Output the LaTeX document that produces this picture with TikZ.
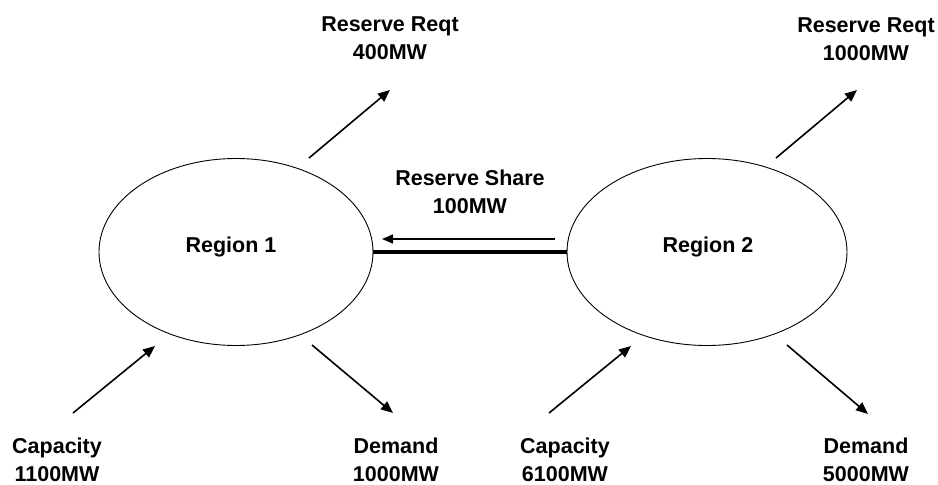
\documentclass[tikz,border=0pt]{standalone}
\usepackage{fontspec}
\setmainfont{Liberation Sans}
\usetikzlibrary{shapes.geometric,arrows.meta}
\tikzset{
  region/.style={draw,ellipse,line width=0.9pt,inner sep=0pt},
  lbl/.style={align=center,inner sep=0pt,font=\fontsize{21.5}{28}\selectfont\bfseries},
  flow/.style={line width=1.6pt,-{Triangle[length=12pt,width=10pt]}},
}
\begin{document}
\begin{tikzpicture}[x=1pt,y=-1pt]
\useasboundingbox (0,0) rectangle (938,485);
% the two regions
\node[region,minimum width=274pt,minimum height=187pt] (r1) at (236,252) {};
\node[region,minimum width=280pt,minimum height=187pt] (r2) at (707,252) {};
\node[lbl,anchor=base] (r1txt) at (231,252) {Region 1};
\node[lbl,anchor=base] (r2txt) at (708,252) {Region 2};
% tie line and the shared reserve
\draw[line width=4pt] (r1.east) -- (r2.west);
\node[lbl] (share) at (470,191.5) {Reserve Share\\100MW};
\coordinate (shareA) at (555,239);
\coordinate (shareB) at (382,239);
\draw[line width=1.4pt,-{Triangle[length=11pt,width=9pt]}] (shareA) -- (shareB);
% labels
\node[lbl] (req1) at (390,38.3) {Reserve Reqt\\400MW};
\node[lbl] (req2) at (866,39.5) {Reserve Reqt\\1000MW};
\node[lbl] (cap1) at (57,460) {Capacity\\1100MW};
\node[lbl] (dem1) at (396,460) {Demand\\1000MW};
\node[lbl] (cap2) at (565,460) {Capacity\\6100MW};
\node[lbl] (dem2) at (866,460) {Demand\\5000MW};
% arrow ends
\coordinate (r1up) at (309,158);   \coordinate (r1upH) at (390,90);
\coordinate (r1cap) at (73,413);   \coordinate (r1capH) at (155,346);
\coordinate (r1dem) at (312,345);  \coordinate (r1demH) at (393,413);
\coordinate (r2up) at (776,158);   \coordinate (r2upH) at (857,90);
\coordinate (r2cap) at (549,413);  \coordinate (r2capH) at (631,346);
\coordinate (r2dem) at (787,345);  \coordinate (r2demH) at (868,414);
\foreach \a in {r1up,r1cap,r1dem,r2up,r2cap,r2dem}
{
    \draw[flow] (\a) -- (\a H);
}
\end{tikzpicture}
\end{document}
